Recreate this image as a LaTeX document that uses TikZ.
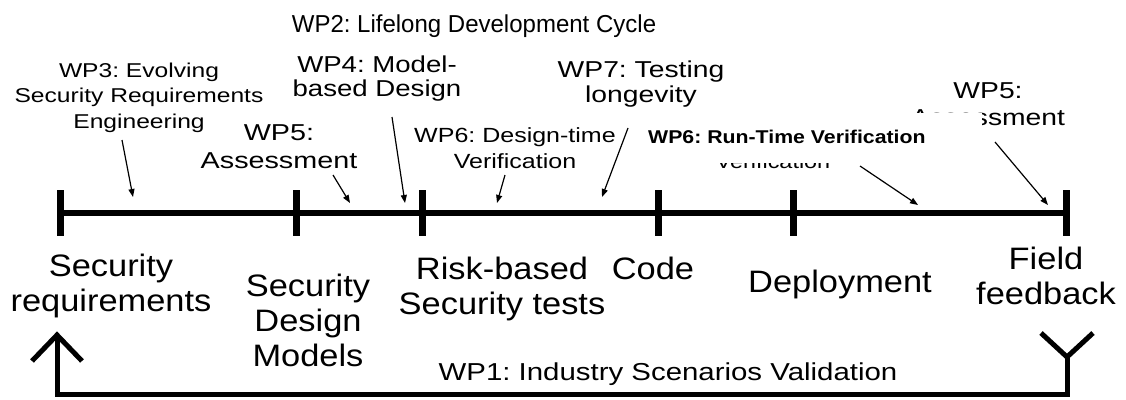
\documentclass[tikz,border=0pt]{standalone}
\usepackage{fontspec}
\setmainfont{Liberation Sans}
\usepackage{graphicx}
\usetikzlibrary{arrows.meta}
\frenchspacing

% horizontally widened, centred block of lines; first baseline is the box baseline
\newcommand\widened[2]{\scalebox{#1}[1]{\begin{tabular}[t]{@{}c@{}}#2\end{tabular}}}
\newcommand\fsz[2]{\fontsize{#1}{#2}\selectfont}

\tikzset{
  lbl/.style={inner sep=0pt, anchor=base},
  ptr/.style={line width=1.2pt, -{Triangle[length=8pt,width=6pt]}},
  axis/.style={line width=6pt},
  tickmark/.style={line width=7pt},
  fb/.style={line width=5pt, line join=miter},
}

\begin{document}
\begin{tikzpicture}[x=1pt, y=-1pt]
\useasboundingbox (0,0) rectangle (1126,399);

% ---- time line with milestones ----
\coordinate (m1) at (60,213);
\coordinate (m6) at (1066,213);
\draw[axis] (m1) -- (m6);
\foreach \x in {60,296,422,658,793,1066}
  \draw[tickmark] (\x,190) -- (\x,236);

% ---- title ----
\node[lbl] (wp2) at (474,32) {\fsz{24.5}{28}\widened{0.98}{WP2: Lifelong Development Cycle}};

% ---- work packages above the line ----
\node[lbl] (wp3) at (139,77) {\fsz{20}{25.5}\widened{1.23}{WP3: Evolving\\Security Requirements\\Engineering}};
\node[lbl] (wp4) at (377,72) {\fsz{23}{24}\widened{1.2}{WP4: Model-\\based Design}};
\node[lbl] (wp5a) at (279,140) {\fsz{23}{28}\widened{1.25}{WP5:\\Assessment}};
\node[lbl] (wp6dt) at (515,142) {\fsz{20.5}{26}\widened{1.22}{WP6: Design-time\\Verification}};
\node[lbl] (wp7) at (641,77) {\fsz{23}{25}\widened{1.23}{WP7: Testing\\longevity}};
\node[lbl] (wp6old) at (773,168) {\fsz{19.5}{26}\widened{1.2}{Verification}};
\node[lbl] (wp5b) at (988,98) {\fsz{23}{27}\widened{1.23}{WP5:\\Assessment}};

% run-time verification label on its white patch
\fill[white] (640,112.5) rectangle (982,163);
\node[lbl, anchor=base west] (wp6rt) at (648,143) {\fsz{18.5}{22}\bfseries\scalebox{1.15}[1]{WP6: Run-Time Verification}};

% ---- pointers from work packages to the line ----
\coordinate (a3s) at (122,140);  \coordinate (a3e) at (133,197);
\coordinate (a5s) at (333,175);  \coordinate (a5e) at (350,203);
\coordinate (a4s) at (392,117);  \coordinate (a4e) at (405,203);
\coordinate (a6s) at (505,175);  \coordinate (a6e) at (497,203);
\coordinate (a7s) at (628,128);  \coordinate (a7e) at (602,197);
\coordinate (a8s) at (860,166);  \coordinate (a8e) at (918,205);
\coordinate (a9s) at (995,142);  \coordinate (a9e) at (1048,205);
\draw[ptr] (a3s) -- (a3e);
\draw[ptr] (a5s) -- (a5e);
\draw[ptr] (a4s) -- (a4e);
\draw[ptr] (a6s) -- (a6e);
\draw[ptr] (a7s) -- (a7e);
\draw[ptr] (a8s) -- (a8e);
\draw[ptr] (a9s) -- (a9e);

% ---- milestones below the line ----
\node[lbl] (secreq) at (111,276) {\fsz{31}{35}\widened{1.11}{Security\\requirements}};
\node[lbl] (secdes) at (308,296) {\fsz{31}{35}\widened{1.11}{Security\\Design\\Models}};
\node[lbl] (risk) at (502,279) {\fsz{31}{35}\widened{1.11}{Risk-based\\Security tests}};
\node[lbl] (code) at (653,279) {\fsz{31}{35}\widened{1.11}{Code}};
\node[lbl] (deploy) at (840,292) {\fsz{31}{35}\widened{1.11}{Deployment}};
\node[lbl] (field) at (1046,269) {\fsz{31}{35}\widened{1.11}{Field\\feedback}};

% ---- feedback loop ----
\node[lbl] (wp1) at (668,380) {\fsz{24.5}{28}\widened{1.2}{WP1: Industry Scenarios Validation}};
\coordinate (fbStart) at (1067,357);
\coordinate (fbCorner) at (57,394);
\coordinate (fbEnd) at (57,335);
\draw[fb] (fbStart) |- (fbCorner) -- (fbEnd);
\draw[fb] (1041,333) -- (fbStart) -- (1093,333);
\draw[fb] (32,361) -- (fbEnd) -- (82,361);
\end{tikzpicture}
\end{document}
